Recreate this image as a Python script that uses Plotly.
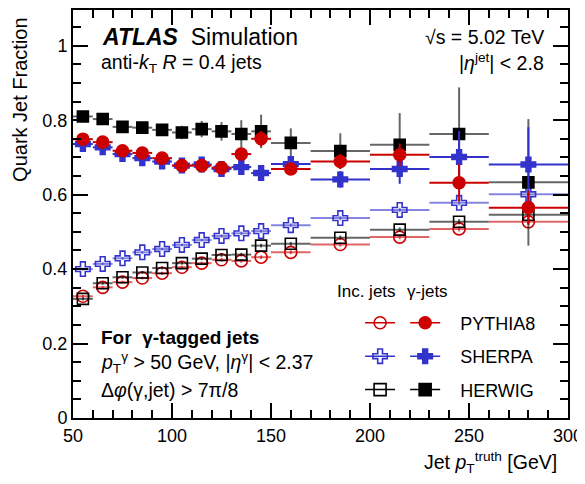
import plotly.graph_objects as go

# ---- data ----
pt_centers = [55, 65, 75, 85, 95, 105, 115, 125, 135, 145, 160, 185, 215, 245, 280]
pt_halfwidth = [5, 5, 5, 5, 5, 5, 5, 5, 5, 5, 10, 15, 15, 15, 20]

pythia_inc = [0.327, 0.351, 0.365, 0.376, 0.389, 0.405, 0.416, 0.425, 0.422, 0.432, 0.445, 0.466, 0.486, 0.508, 0.527]
pythia_inc_err = [0.004, 0.004, 0.004, 0.004, 0.004, 0.004, 0.004, 0.005, 0.005, 0.005, 0.005, 0.006, 0.006, 0.007, 0.008]
sherpa_inc = [0.400, 0.414, 0.429, 0.445, 0.454, 0.465, 0.478, 0.489, 0.496, 0.502, 0.518, 0.537, 0.559, 0.578, 0.601]
sherpa_inc_err = [0.004, 0.004, 0.004, 0.004, 0.004, 0.004, 0.004, 0.005, 0.005, 0.005, 0.005, 0.006, 0.006, 0.007, 0.008]
herwig_inc = [0.320, 0.362, 0.378, 0.391, 0.403, 0.416, 0.428, 0.438, 0.439, 0.463, 0.468, 0.484, 0.506, 0.527, 0.546]
herwig_inc_err = [0.004, 0.004, 0.004, 0.004, 0.004, 0.004, 0.004, 0.005, 0.005, 0.005, 0.005, 0.006, 0.006, 0.007, 0.008]

pythia_gam = [0.749, 0.741, 0.718, 0.712, 0.698, 0.678, 0.678, 0.672, 0.709, 0.750, 0.669, 0.689, 0.707, 0.632, 0.565]
pythia_gam_err = [0.006, 0.006, 0.007, 0.008, 0.009, 0.010, 0.012, 0.012, 0.015, 0.021, 0.015, 0.020, 0.030, 0.050, 0.045]
sherpa_gam = [0.736, 0.727, 0.709, 0.698, 0.689, 0.678, 0.681, 0.669, 0.674, 0.658, 0.682, 0.641, 0.669, 0.701, 0.681]
sherpa_gam_err = [0.005, 0.006, 0.007, 0.008, 0.009, 0.010, 0.010, 0.012, 0.016, 0.018, 0.015, 0.022, 0.040, 0.070, 0.100]
herwig_gam = [0.810, 0.803, 0.782, 0.780, 0.774, 0.767, 0.776, 0.770, 0.763, 0.770, 0.739, 0.717, 0.734, 0.763, 0.633]
herwig_gam_err = [0.008, 0.008, 0.010, 0.010, 0.012, 0.018, 0.022, 0.025, 0.037, 0.045, 0.039, 0.048, 0.085, 0.125, 0.170]

generators = ["PYTHIA8", "SHERPA", "HERWIG"]
x_ticks = [50, 100, 150, 200, 250, 300]
y_ticks = [0, 0.2, 0.4, 0.6, 0.8, 1.0]
y_ticklabels = ["0", "0.2", "0.4", "0.6", "0.8", "1"]

FONT = "Liberation Sans, Arial, Helvetica, sans-serif"
RED = "rgb(204,0,0)"
BLUE = "rgb(51,51,204)"
BLACK = "rgb(0,0,0)"
RED_L = "rgba(204,0,0,0.6)"
BLUE_L = "rgba(51,51,204,0.6)"
BLACK_L = "rgba(0,0,0,0.6)"

fig = go.Figure()


def add_series(y, yerr, sym, col, barcol, size):
    fig.add_trace(go.Scatter(
        x=pt_centers, y=y, mode="markers",
        marker=dict(symbol=sym, size=size, color=col, line=dict(color=col, width=1.6)),
        error_x=dict(type="data", array=pt_halfwidth, color=barcol, thickness=2, width=0),
        error_y=dict(type="data", array=yerr, color=barcol, thickness=2, width=0),
        showlegend=False, hoverinfo="x+y"))


add_series(pythia_inc, pythia_inc_err, "circle-open", RED, RED_L, 12)
add_series(herwig_inc, herwig_inc_err, "square-open", BLACK, BLACK_L, 11)
add_series(sherpa_inc, sherpa_inc_err, "cross-open", BLUE, BLUE_L, 12)
add_series(herwig_gam, herwig_gam_err, "square", BLACK, BLACK_L, 11)
add_series(sherpa_gam, sherpa_gam_err, "cross", BLUE, BLUE, 12)
add_series(pythia_gam, pythia_gam_err, "circle", RED, RED, 12)

# legend-only entries (no data points)
leg_open = ["circle-open", "cross-open", "square-open"]
leg_fill = ["circle", "cross", "square"]
leg_cols = [RED, BLUE, BLACK]
NB = "\u00a0"
for i, g in enumerate(generators):
    fig.add_trace(go.Scatter(x=[None], y=[None], mode="lines+markers", name=NB,
                             legend="legend", legendgroup="a" + g,
                             marker=dict(symbol=leg_open[i], size=12, color=leg_cols[i],
                                         line=dict(color=leg_cols[i], width=1.6)),
                             line=dict(color=leg_cols[i], width=1.5)))
    fig.add_trace(go.Scatter(x=[None], y=[None], mode="lines+markers", name=NB * 3 + g,
                             legend="legend2", legendgroup="b" + g,
                             marker=dict(symbol=leg_fill[i], size=12, color=leg_cols[i],
                                         line=dict(color=leg_cols[i], width=1.6)),
                             line=dict(color=leg_cols[i], width=1.5)))

axis_common = dict(showline=True, linecolor="black", linewidth=2, mirror="allticks",
                   ticks="inside", ticklen=15, tickwidth=1.5, tickcolor="black",
                   showgrid=False, zeroline=False,
                   tickfont=dict(family=FONT, size=18, color="black"))

fig.update_layout(
    width=577, height=476,
    margin=dict(l=65, r=17, t=0, b=66),
    paper_bgcolor="white", plot_bgcolor="white",
    font=dict(family=FONT, size=18, color="black"),
    xaxis=dict(range=[50, 300], tickvals=x_ticks,
               minor=dict(dtick=10, ticks="inside", ticklen=8, tickwidth=1.5, tickcolor="black"),
               **axis_common),
    yaxis=dict(range=[0, 1.096], tickvals=y_ticks, ticktext=y_ticklabels,
               minor=dict(dtick=0.05, ticks="inside", ticklen=8, tickwidth=1.5, tickcolor="black"),
               **axis_common),
    legend=dict(x=0.58, y=0.278, xanchor="left", yanchor="top", bgcolor="rgba(0,0,0,0)",
                font=dict(family=FONT, size=18), tracegroupgap=7, itemwidth=30,
                traceorder="grouped"),
    legend2=dict(x=0.671, y=0.278, xanchor="left", yanchor="top", bgcolor="rgba(0,0,0,0)",
                 font=dict(family=FONT, size=18), tracegroupgap=7, itemwidth=30,
                 traceorder="grouped"),
)

ann = [
    dict(text="<b><i>ATLAS</i></b>" + NB + " Simulation", x=0.055, y=0.935, xanchor="left", yanchor="middle", size=23),
    dict(text="anti-<i>k</i><sub>T</sub> <i>R</i> = 0.4 jets", x=0.053, y=0.868, xanchor="left", yanchor="middle", size=19.5),
    dict(text="√s = 5.02 TeV", x=0.956, y=0.935, xanchor="right", yanchor="middle", size=19.5),
    dict(text="|<i>η</i><sup>jet</sup>| < 2.8", x=0.956, y=0.872, xanchor="right", yanchor="middle", size=19.5),
    dict(text="<b>For  γ-tagged jets</b>", x=0.053, y=0.198, xanchor="left", yanchor="middle", size=19),
    dict(text="<i>p</i><sub>T</sub><sup>γ</sup> > 50 GeV, |<i>η</i><sup>γ</sup>| < 2.37", x=0.053, y=0.137, xanchor="left", yanchor="middle", size=19.5),
    dict(text="Δ<i>φ</i>(γ,jet) > 7π/8", x=0.053, y=0.068, xanchor="left", yanchor="middle", size=19.5),
    dict(text="Inc. jets", x=0.592, y=0.31, xanchor="center", yanchor="middle", size=17),
    dict(text="γ-jets", x=0.717, y=0.31, xanchor="center", yanchor="middle", size=17),
    dict(text="Jet <i>p</i><sub>T</sub><sup>truth</sup> [GeV]", x=0.982, y=-0.108, xanchor="right", yanchor="middle", size=19.5),
]
for a in ann:
    fig.add_annotation(text=a["text"], x=a["x"], y=a["y"], xref="paper", yref="paper",
                       xanchor=a["xanchor"], yanchor=a["yanchor"], showarrow=False,
                       font=dict(family=FONT, size=a["size"], color="black"))
fig.add_annotation(text="Quark Jet Fraction", x=-0.106, y=0.988, xref="paper", yref="paper",
                   xanchor="center", yanchor="top", textangle=-90, showarrow=False,
                   font=dict(family=FONT, size=20, color="black"))

fig.write_html("out.html")
